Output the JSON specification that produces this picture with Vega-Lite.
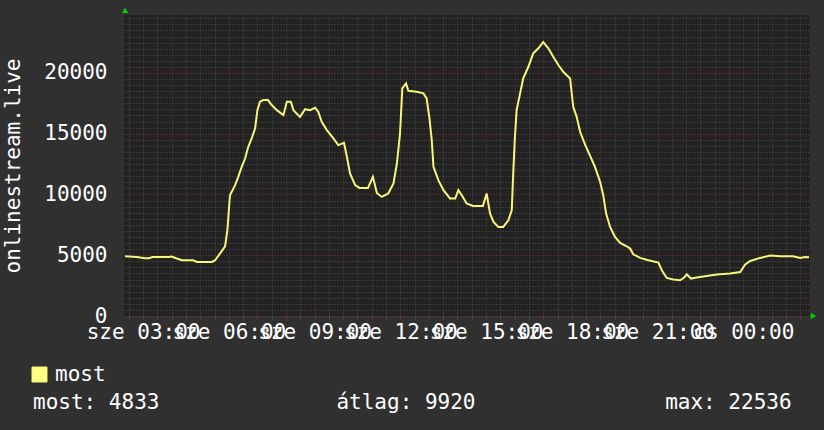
{
  "$schema": "https://vega.github.io/schema/vega-lite/v6.json",
  "width": 686,
  "height": 301,
  "autosize": "none",
  "padding": {"left": 124, "top": 15, "right": 14, "bottom": 114},
  "background": "#303030",
  "config": {
    "font": "DejaVu Sans Mono",
    "view": {"fill": "#222222", "stroke": null}
  },
  "title": {
    "text": "most: 4833\u00a0\u00a0\u00a0\u00a0\u00a0\u00a0\u00a0\u00a0\u00a0\u00a0\u00a0\u00a0\u00a0\u00a0átlag: 9920\u00a0\u00a0\u00a0\u00a0\u00a0\u00a0\u00a0\u00a0\u00a0\u00a0\u00a0\u00a0\u00a0\u00a0\u00a0max: 22536",
    "orient": "bottom",
    "anchor": "start",
    "frame": "group",
    "baseline": "alphabetic",
    "offset": 24,
    "dx": -91,
    "font": "DejaVu Sans Mono",
    "fontSize": 21,
    "fontWeight": "normal",
    "color": "#ffffff"
  },
  "encoding": {
    "x": {
      "field": "t",
      "type": "quantitative",
      "scale": {"domain": [2.333, 26.333], "nice": false, "zero": false},
      "axis": {
        "title": null,
        "values": [2.5,3,3.5,4,4.5,5,5.5,6,6.5,7,7.5,8,8.5,9,9.5,10,10.5,11,11.5,12,12.5,13,13.5,14,14.5,15,15.5,16,16.5,17,17.5,18,18.5,19,19.5,20,20.5,21,21.5,22,22.5,23,23.5,24,24.5,25,25.5,26],
        "labelExpr": "datum.value % 3 == 0 ? (datum.value < 24 ? 'sze ' + (datum.value < 10 ? '0' : '') + datum.value + ':00' : 'cs 00:00') : ''",
        "labelOverlap": false,
        "labelFlush": false,
        "labelBound": false,
        "labelFont": "DejaVu Sans Mono",
        "labelFontSize": 21,
        "labelColor": "#ffffff",
        "labelPadding": 2,
        "domain": false,
        "tickSize": 3,
        "tickColor": {"condition": {"test": "datum.value % 1 == 0", "value": "#7a3535"}, "value": "#505050"},
        "grid": true,
        "gridDash": [1, 2],
        "gridWidth": 1,
        "gridOpacity": 1,
        "gridColor": {"condition": {"test": "datum.value % 1 == 0", "value": "#7a3535"}, "value": "#505050"}
      }
    },
    "y": {
      "field": "v",
      "type": "quantitative",
      "scale": {"domain": [0, 24770], "nice": false},
      "axis": {
        "title": "onlinestream.live",
        "titleFont": "DejaVu Sans Mono",
        "titleFontSize": 21,
        "titleFontWeight": "normal",
        "titleColor": "#ffffff",
        "titleBaseline": "alphabetic",
        "titleX": -105,
        "values": [0,500,1000,1500,2000,2500,3000,3500,4000,4500,5000,5500,6000,6500,7000,7500,8000,8500,9000,9500,10000,10500,11000,11500,12000,12500,13000,13500,14000,14500,15000,15500,16000,16500,17000,17500,18000,18500,19000,19500,20000,20500,21000,21500,22000,22500,23000,23500,24000,24500],
        "labelExpr": "datum.value % 5000 == 0 ? '' + datum.value : ''",
        "labelOverlap": false,
        "labelBound": false,
        "labelFlush": false,
        "labelFont": "DejaVu Sans Mono",
        "labelFontSize": 21,
        "labelColor": "#ffffff",
        "labelPadding": 17,
        "ticks": false,
        "domain": false,
        "grid": true,
        "gridDash": [1, 2],
        "gridWidth": 1,
        "gridOpacity": 1,
        "gridColor": {"condition": {"test": "datum.value % 5000 == 0", "value": "#7a3535"}, "value": "#505050"}
      }
    }
  },
  "layer": [
    {
      "data": {"values": [
        {"t": 2.37, "v": 4920, "series": "most"},
        {"t": 2.78, "v": 4860, "series": "most"},
        {"t": 3.07, "v": 4750, "series": "most"},
        {"t": 3.20, "v": 4750, "series": "most"},
        {"t": 3.34, "v": 4860, "series": "most"},
        {"t": 3.59, "v": 4860, "series": "most"},
        {"t": 3.90, "v": 4860, "series": "most"},
        {"t": 4.00, "v": 4900, "series": "most"},
        {"t": 4.18, "v": 4730, "series": "most"},
        {"t": 4.36, "v": 4590, "series": "most"},
        {"t": 4.75, "v": 4590, "series": "most"},
        {"t": 4.89, "v": 4450, "series": "most"},
        {"t": 5.41, "v": 4450, "series": "most"},
        {"t": 5.52, "v": 4590, "series": "most"},
        {"t": 5.69, "v": 5140, "series": "most"},
        {"t": 5.87, "v": 5740, "series": "most"},
        {"t": 5.95, "v": 7060, "series": "most"},
        {"t": 6.04, "v": 9940, "series": "most"},
        {"t": 6.22, "v": 10770, "series": "most"},
        {"t": 6.33, "v": 11450, "series": "most"},
        {"t": 6.45, "v": 12270, "series": "most"},
        {"t": 6.57, "v": 12960, "series": "most"},
        {"t": 6.68, "v": 13920, "series": "most"},
        {"t": 6.80, "v": 14610, "series": "most"},
        {"t": 6.92, "v": 15440, "series": "most"},
        {"t": 7.00, "v": 16940, "series": "most"},
        {"t": 7.09, "v": 17630, "series": "most"},
        {"t": 7.20, "v": 17770, "series": "most"},
        {"t": 7.37, "v": 17770, "series": "most"},
        {"t": 7.50, "v": 17360, "series": "most"},
        {"t": 7.68, "v": 16940, "series": "most"},
        {"t": 7.91, "v": 16530, "series": "most"},
        {"t": 8.03, "v": 17630, "series": "most"},
        {"t": 8.17, "v": 17630, "series": "most"},
        {"t": 8.26, "v": 16940, "series": "most"},
        {"t": 8.49, "v": 16390, "series": "most"},
        {"t": 8.67, "v": 17020, "series": "most"},
        {"t": 8.84, "v": 16940, "series": "most"},
        {"t": 9.02, "v": 17130, "series": "most"},
        {"t": 9.13, "v": 16800, "series": "most"},
        {"t": 9.25, "v": 15980, "series": "most"},
        {"t": 9.43, "v": 15300, "series": "most"},
        {"t": 9.66, "v": 14610, "series": "most"},
        {"t": 9.83, "v": 14060, "series": "most"},
        {"t": 10.03, "v": 14250, "series": "most"},
        {"t": 10.13, "v": 13100, "series": "most"},
        {"t": 10.24, "v": 11730, "series": "most"},
        {"t": 10.42, "v": 10770, "series": "most"},
        {"t": 10.57, "v": 10540, "series": "most"},
        {"t": 10.87, "v": 10540, "series": "most"},
        {"t": 11.04, "v": 11450, "series": "most"},
        {"t": 11.18, "v": 10130, "series": "most"},
        {"t": 11.35, "v": 9800, "series": "most"},
        {"t": 11.58, "v": 10080, "series": "most"},
        {"t": 11.76, "v": 10900, "series": "most"},
        {"t": 11.88, "v": 12550, "series": "most"},
        {"t": 11.99, "v": 15020, "series": "most"},
        {"t": 12.07, "v": 18730, "series": "most"},
        {"t": 12.20, "v": 19140, "series": "most"},
        {"t": 12.28, "v": 18530, "series": "most"},
        {"t": 12.57, "v": 18450, "series": "most"},
        {"t": 12.81, "v": 18320, "series": "most"},
        {"t": 12.92, "v": 17910, "series": "most"},
        {"t": 13.02, "v": 16260, "series": "most"},
        {"t": 13.10, "v": 14470, "series": "most"},
        {"t": 13.16, "v": 12270, "series": "most"},
        {"t": 13.33, "v": 11180, "series": "most"},
        {"t": 13.51, "v": 10350, "series": "most"},
        {"t": 13.74, "v": 9670, "series": "most"},
        {"t": 13.92, "v": 9670, "series": "most"},
        {"t": 14.03, "v": 10350, "series": "most"},
        {"t": 14.15, "v": 9940, "series": "most"},
        {"t": 14.32, "v": 9260, "series": "most"},
        {"t": 14.54, "v": 9060, "series": "most"},
        {"t": 14.89, "v": 9060, "series": "most"},
        {"t": 15.02, "v": 10080, "series": "most"},
        {"t": 15.14, "v": 8430, "series": "most"},
        {"t": 15.26, "v": 7740, "series": "most"},
        {"t": 15.43, "v": 7330, "series": "most"},
        {"t": 15.60, "v": 7330, "series": "most"},
        {"t": 15.78, "v": 7880, "series": "most"},
        {"t": 15.90, "v": 8710, "series": "most"},
        {"t": 15.95, "v": 11730, "series": "most"},
        {"t": 16.01, "v": 14740, "series": "most"},
        {"t": 16.07, "v": 16940, "series": "most"},
        {"t": 16.19, "v": 18320, "series": "most"},
        {"t": 16.30, "v": 19550, "series": "most"},
        {"t": 16.48, "v": 20510, "series": "most"},
        {"t": 16.65, "v": 21610, "series": "most"},
        {"t": 16.83, "v": 22030, "series": "most"},
        {"t": 17.00, "v": 22536, "series": "most"},
        {"t": 17.18, "v": 22030, "series": "most"},
        {"t": 17.35, "v": 21340, "series": "most"},
        {"t": 17.53, "v": 20650, "series": "most"},
        {"t": 17.70, "v": 20100, "series": "most"},
        {"t": 17.94, "v": 19550, "series": "most"},
        {"t": 18.05, "v": 17220, "series": "most"},
        {"t": 18.17, "v": 16390, "series": "most"},
        {"t": 18.29, "v": 15160, "series": "most"},
        {"t": 18.46, "v": 14130, "series": "most"},
        {"t": 18.64, "v": 13170, "series": "most"},
        {"t": 18.81, "v": 12270, "series": "most"},
        {"t": 18.99, "v": 11040, "series": "most"},
        {"t": 19.10, "v": 9940, "series": "most"},
        {"t": 19.20, "v": 8430, "series": "most"},
        {"t": 19.34, "v": 7330, "series": "most"},
        {"t": 19.51, "v": 6510, "series": "most"},
        {"t": 19.69, "v": 6010, "series": "most"},
        {"t": 19.92, "v": 5740, "series": "most"},
        {"t": 20.04, "v": 5550, "series": "most"},
        {"t": 20.15, "v": 5080, "series": "most"},
        {"t": 20.39, "v": 4780, "series": "most"},
        {"t": 20.68, "v": 4590, "series": "most"},
        {"t": 21.03, "v": 4400, "series": "most"},
        {"t": 21.15, "v": 3760, "series": "most"},
        {"t": 21.32, "v": 3130, "series": "most"},
        {"t": 21.55, "v": 3000, "series": "most"},
        {"t": 21.79, "v": 2940, "series": "most"},
        {"t": 21.93, "v": 3160, "series": "most"},
        {"t": 22.02, "v": 3430, "series": "most"},
        {"t": 22.17, "v": 3080, "series": "most"},
        {"t": 22.37, "v": 3160, "series": "most"},
        {"t": 22.72, "v": 3300, "series": "most"},
        {"t": 23.07, "v": 3410, "series": "most"},
        {"t": 23.54, "v": 3490, "series": "most"},
        {"t": 23.89, "v": 3620, "series": "most"},
        {"t": 24.06, "v": 4230, "series": "most"},
        {"t": 24.24, "v": 4530, "series": "most"},
        {"t": 24.59, "v": 4780, "series": "most"},
        {"t": 24.94, "v": 4970, "series": "most"},
        {"t": 25.29, "v": 4920, "series": "most"},
        {"t": 25.74, "v": 4920, "series": "most"},
        {"t": 25.99, "v": 4780, "series": "most"},
        {"t": 26.16, "v": 4860, "series": "most"},
        {"t": 26.30, "v": 4833, "series": "most"}
      ]},
      "mark": {"type": "line", "strokeWidth": 2, "interpolate": "linear"},
      "encoding": {
        "color": {
          "field": "series",
          "type": "nominal",
          "scale": {"range": ["#f6f67a"]},
          "legend": {
            "orient": "none",
            "legendX": -95,
            "legendY": 349,
            "title": null,
            "symbolType": "square",
            "symbolSize": 225,
            "symbolStrokeWidth": 1,
            "labelFont": "DejaVu Sans Mono",
            "labelFontSize": 21,
            "labelColor": "#ffffff",
            "labelOffset": 5,
            "padding": 0,
            "encode": {"symbols": {"update": {"fill": {"value": "#ffff80"}, "stroke": {"value": "#000000"}, "opacity": {"value": 1}, "fillOpacity": {"value": 1}}}}
          }
        }
      }
    },
    {
      "data": {"values": [
        {"t": 2.37, "v": 25150, "dir": "up"},
        {"t": 26.45, "v": 0, "dir": "right"}
      ]},
      "mark": {"type": "point", "filled": true, "size": 40, "color": "#00d000", "opacity": 1},
      "encoding": {
        "shape": {"field": "dir", "type": "nominal", "scale": {"domain": ["up", "right"], "range": ["triangle-up", "triangle-right"]}, "legend": null}
      }
    }
  ]
}
